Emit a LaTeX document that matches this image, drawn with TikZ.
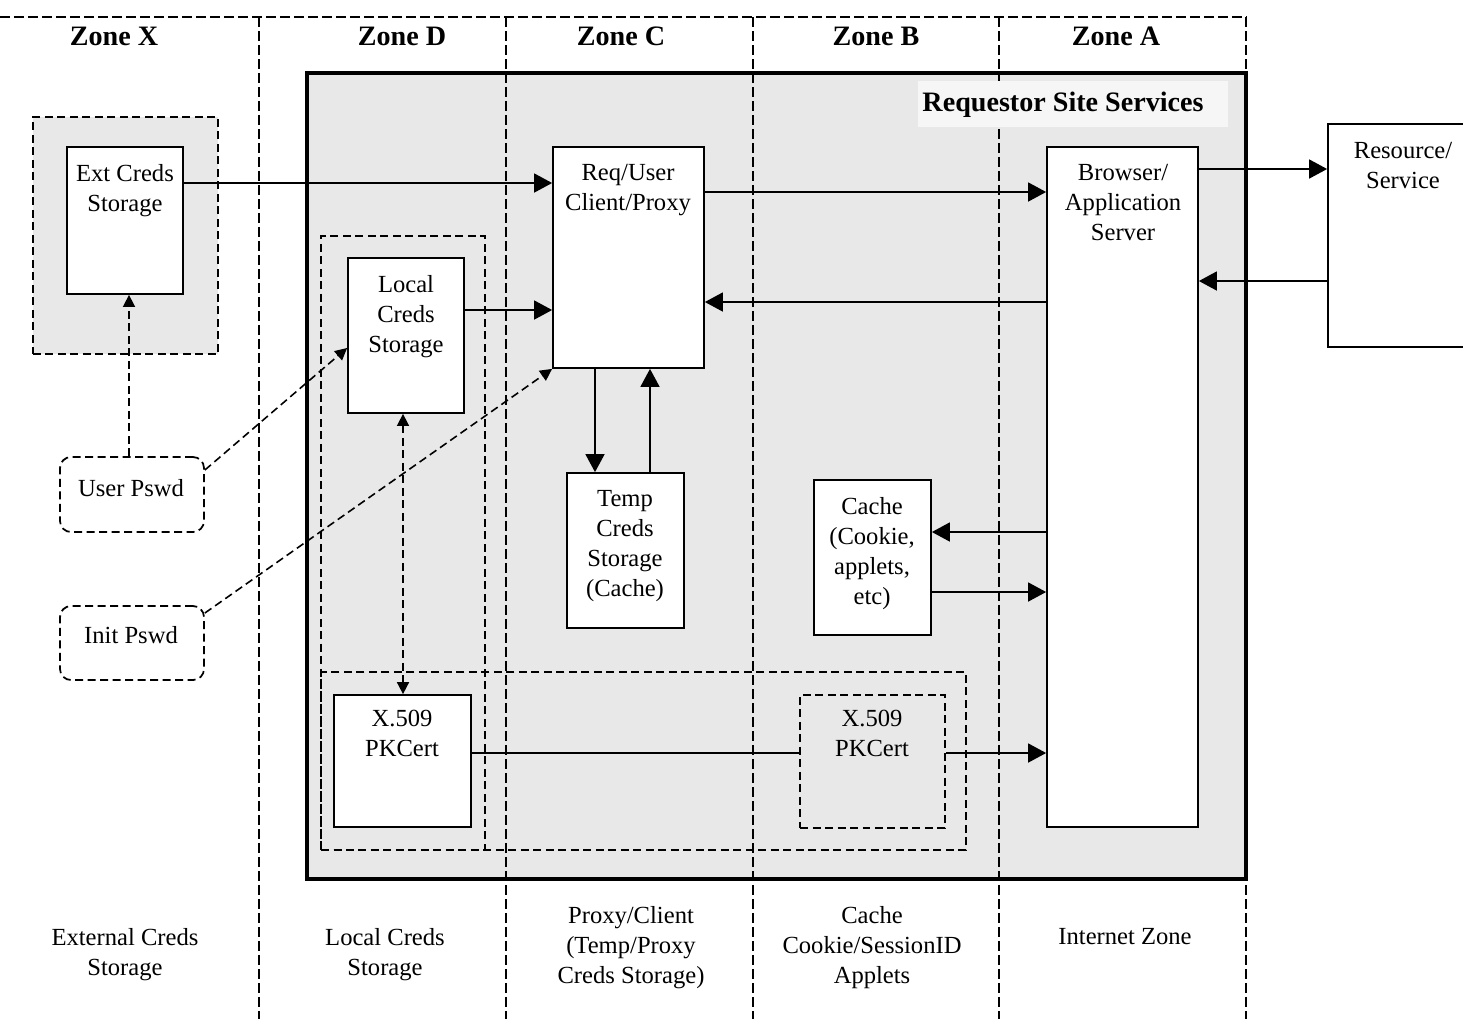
\documentclass[tikz,border=0pt]{standalone}
\usepackage{fontspec}
\setmainfont{Liberation Serif}
\usetikzlibrary{arrows.meta,fit,calc}
\definecolor{shade}{HTML}{E8E8E8}
\definecolor{lblbg}{HTML}{F6F6F6}
\begin{document}
\begin{tikzpicture}[x=0.02cm,y=-0.02cm,
  box/.style={draw, fill=white, line width=1pt, inner sep=0pt},
  dbox/.style={draw, dash pattern=on 0.16cm off 0.09cm, line width=1pt, inner sep=0pt},
  zoneline/.style={dash pattern=on 0.2cm off 0.08cm, line width=0.9pt},
  conn/.style={line width=0.9pt, -{Triangle[length=0.36cm,width=0.38cm]}},
  plain/.style={line width=0.9pt},
  dconn/.style={line width=0.9pt, dash pattern=on 0.16cm off 0.09cm, -{Triangle[length=0.24cm,width=0.24cm]}},
  ddconn/.style={line width=0.9pt, dash pattern=on 0.16cm off 0.09cm, {Triangle[length=0.24cm,width=0.24cm]}-{Triangle[length=0.24cm,width=0.24cm]}},
  txt/.style={font=\fontsize{14}{17.07}\selectfont, align=center, inner sep=0pt, anchor=north},
  head/.style={font=\fontsize{16}{19}\selectfont\bfseries, inner sep=0pt},
]
\useasboundingbox (0,0) rectangle (1463,1019);
\clip (0,0) rectangle (1463,1019);

% main requestor area
\node[fit={(307,73)(1246,879)}, fill=shade, draw, line width=1.8pt, inner sep=0pt] (main) {};
% external creds zone
\node[dbox, fill=shade, fit={(33,117)(218,354)}] (extzone) {};

% zone lines
\draw[zoneline] (0,17) -- (1246,17);
\draw[zoneline] (259,17) -- (259,1019);
\draw[zoneline] (506,17) -- (506,1019);
\draw[zoneline] (753,17) -- (753,1019);
\draw[zoneline] (999,17) -- (999,1019);
\draw[zoneline] (1246,17) -- (1246,1019);

% headings
\node[head] (zx) at (114,36) {Zone X};
\node[head] (zd) at (402,36) {Zone D};
\node[head] (zc) at (621,36) {Zone C};
\node[head] (zb) at (876,36) {Zone B};
\node[head] (za) at (1116,36) {Zone A};

% requestor label
\node[fill=lblbg, inner sep=0pt, fit={(918,81)(1228,127)}] (rssbg) {};
\node[head, anchor=base] (rss) at (1063,111) {Requestor Site Services};

% dashed groupings
\node[dbox, fit={(321,236)(485,850)}] (localzone) {};
\node[dbox, fit={(321,672)(966,850)}] (certzone) {};

% boxes
\node[box, fit={(67,147)(183,294)}] (ext) {};
\node[box, fit={(553,147)(704,368)}] (req) {};
\node[box, fit={(1047,147)(1198,827)}] (brw) {};
\node[box, fit={(1328,124)(1478,347)}] (res) {};
\node[box, fit={(348,258)(464,413)}] (loc) {};
\node[box, fit={(567,473)(684,628)}] (tmp) {};
\node[box, fit={(814,480)(931,635)}] (cache) {};
\node[box, fit={(334,695)(471,827)}] (xl) {};
\node[dbox, fit={(800,695)(945,828)}] (xr) {};
\node[dbox, rounded corners=0.22cm, fit={(60,457)(204,532)}] (upw) {};
\node[dbox, rounded corners=0.22cm, fit={(60,606)(204,680)}] (ipw) {};

% connectors
\draw[conn] (ext.east |- 0,183) -- (req.west |- 0,183);
\draw[conn] (req.east |- 0,192) -- (brw.west |- 0,192);
\draw[conn] (brw.east |- 0,169) -- (res.west |- 0,169);
\draw[conn] (res.west |- 0,281) -- (brw.east |- 0,281);
\draw[conn] (brw.west |- 0,302) -- (req.east |- 0,302);
\draw[conn] (loc.east |- 0,310) -- (req.west |- 0,310);
\draw[conn] (req.south -| 595,0) -- (tmp.north -| 595,0);
\draw[conn] (tmp.north -| 650,0) -- (req.south -| 650,0);
\draw[conn] (brw.west |- 0,532) -- (cache.east |- 0,532);
\draw[conn] (cache.east |- 0,592) -- (brw.west |- 0,592);
\draw[plain] (xl.east |- 0,753) -- (xr.west |- 0,753);
\draw[conn] (xr.east |- 0,753) -- (brw.west |- 0,753);
\draw[dconn] (upw.north -| 129,0) -- (ext.south -| 129,0);
\draw[dconn] (upw.east |- 0,470) -- (loc.west |- 0,348);
\draw[dconn] (ipw.east |- 0,613) -- (req.south west);
\draw[ddconn] (loc.south -| 403,0) -- (xl.north -| 403,0);

% texts
\node[txt] (extT) at (125,164) {Ext Creds\\Storage};
\node[txt] (reqT) at (628,164) {Req/User\\Client/Proxy};
\node[txt] (brwT) at (1123,164) {Browser/\\Application\\Server};
\node[txt] (resT) at (1403,142) {Resource/\\Service};
\node[txt] (locT) at (406,275) {Local\\Creds\\Storage};
\node[txt] (tmpT) at (625,490) {Temp\\Creds\\Storage\\(Cache)};
\node[txt] (cacheT) at (872,497) {Cache\\(Cookie,\\applets,\\etc)};
\node[txt] (xlT) at (402,710) {X.509\\PKCert};
\node[txt] (xrT) at (872,710) {X.509\\PKCert};
\node[txt] (upwT) at (131,479) {User Pswd};
\node[txt] (ipwT) at (131,626) {Init Pswd};

% bottom labels
\node[txt] (extB) at (125,928) {External Creds\\Storage};
\node[txt] (locB) at (385,928) {Local Creds\\Storage};
\node[txt] (prxB) at (631,906) {Proxy/Client\\(Temp/Proxy\\Creds Storage)};
\node[txt] (cacB) at (872,906) {Cache\\Cookie/SessionID\\Applets};
\node[txt] (intB) at (1125,928) {Internet Zone};
\end{tikzpicture}
\end{document}
